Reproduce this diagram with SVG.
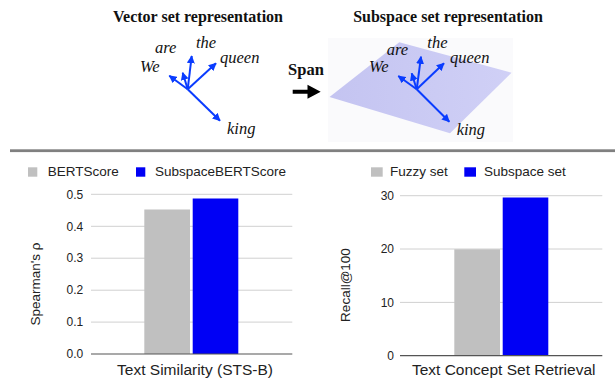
<svg xmlns="http://www.w3.org/2000/svg" width="615" height="383" viewBox="0 0 615 383">
<style>
.title{font-family:"Liberation Serif",serif;font-weight:bold;font-size:16px;fill:#111;text-anchor:middle}
.word{font-family:"Liberation Serif",serif;font-style:italic;font-size:16.5px;fill:#111}
.vec{stroke:#0a3cff;stroke-width:2;fill:none;marker-end:url(#ah)}
.grid{stroke:#d0d0d0;stroke-width:1}
.axis{stroke:#555;stroke-width:1.2}
.tick{font-family:"Liberation Sans",Arial,sans-serif;font-size:12px;fill:#222;text-anchor:end}
.leg{font-family:"Liberation Sans",Arial,sans-serif;font-size:13.5px;fill:#222}
.xl{font-family:"Liberation Sans",Arial,sans-serif;font-size:15.5px;fill:#222;text-anchor:middle}
.yl{font-family:"Liberation Sans",Arial,sans-serif;font-size:13.5px;fill:#222;text-anchor:middle}
.gray{fill:#c0c0c0}
.blue{fill:#0000f5}
</style>
<defs>
<marker id="ah" viewBox="0 0 10 10" refX="9" refY="5" markerWidth="4" markerHeight="4" orient="auto" markerUnits="strokeWidth">
<path d="M0,0 L10,5 L0,10 z" fill="#0a3cff"/>
</marker>
<linearGradient id="pg" x1="0" y1="0" x2="1" y2="0">
<stop offset="0" stop-color="#c4c4f1"/>
<stop offset="1" stop-color="#d0d0f6"/>
</linearGradient>
</defs>

<g id="vector-set">
<text class="title" x="198" y="22">Vector set representation</text>
<g id="vectors-left">
<line class="vec" x1="187.7" y1="89.3" x2="169.3" y2="75.7"/>
<line class="vec" x1="187.7" y1="89.3" x2="182.7" y2="72.7"/>
<line class="vec" x1="187.7" y1="89.3" x2="191.7" y2="56"/>
<line class="vec" x1="187.7" y1="89.3" x2="216" y2="63.3"/>
<line class="vec" x1="187.7" y1="89.3" x2="220" y2="120.7"/>
</g>
<text class="word" x="140" y="71.5">We</text>
<text class="word" x="155" y="53.3">are</text>
<text class="word" x="196" y="48.3">the</text>
<text class="word" x="220" y="63.3">queen</text>
<text class="word" x="227" y="134">king</text>
</g>

<g id="span">
<text x="306" y="75" font-family="Liberation Serif,serif" font-weight="bold" font-size="16.5px" fill="#111" text-anchor="middle">Span</text>
<polygon points="292.7,89.7 307.5,89.7 307.5,84.7 320.7,91.7 307.5,98.7 307.5,93.7 292.7,93.7" fill="#000"/>
</g>

<g id="subspace-set">
<text class="title" x="448" y="22">Subspace set representation</text>
<rect x="328" y="38" width="185" height="104" fill="#fafafc"/>
<polygon points="329.5,97 399.3,42.3 511.5,72.7 450,133.3" fill="url(#pg)"/>
<g id="vectors-right">
<line class="vec" x1="416.7" y1="89.3" x2="398.3" y2="76"/>
<line class="vec" x1="416.7" y1="89.3" x2="411.7" y2="73.3"/>
<line class="vec" x1="416.7" y1="89.3" x2="421" y2="56.7"/>
<line class="vec" x1="416.7" y1="89.3" x2="444" y2="63.3"/>
<line class="vec" x1="416.7" y1="89.3" x2="449.3" y2="121.7"/>
</g>
<text class="word" x="369" y="71.7">We</text>
<text class="word" x="386.7" y="55">are</text>
<text class="word" x="427.3" y="48.3">the</text>
<text class="word" x="450" y="63.3">queen</text>
<text class="word" x="456.7" y="135">king</text>
</g>

<rect id="divider" x="10" y="149.3" width="605" height="2.8" fill="#808080"/>

<g id="chart-left">
<rect class="gray" x="28" y="167.3" width="9.3" height="9.4"/>
<text class="leg" x="47.7" y="176">BERTScore</text>
<rect class="blue" x="136" y="167.3" width="9.3" height="9.4"/>
<text class="leg" x="155" y="176">SubspaceBERTScore</text>
<line class="grid" x1="91" y1="194.3" x2="292.3" y2="194.3"/>
<line class="grid" x1="91" y1="226.3" x2="292.3" y2="226.3"/>
<line class="grid" x1="91" y1="258.2" x2="292.3" y2="258.2"/>
<line class="grid" x1="91" y1="290.2" x2="292.3" y2="290.2"/>
<line class="grid" x1="91" y1="322.1" x2="292.3" y2="322.1"/>
<text class="tick" x="83.3" y="198.5">0.5</text>
<text class="tick" x="83.3" y="230.5">0.4</text>
<text class="tick" x="83.3" y="262.4">0.3</text>
<text class="tick" x="83.3" y="294.4">0.2</text>
<text class="tick" x="83.3" y="326.3">0.1</text>
<text class="tick" x="83.3" y="358.2">0.0</text>
<rect class="gray" x="144.3" y="209.5" width="45.7" height="144.5"/>
<rect class="blue" x="192.7" y="198.5" width="45.6" height="155.5"/>
<line class="axis" x1="91" y1="354" x2="292.3" y2="354"/>
<text class="yl" transform="translate(40,284) rotate(-90)">Spearman's ρ</text>
<text class="xl" x="195" y="375">Text Similarity (STS-B)</text>
</g>

<g id="chart-right">
<rect class="gray" x="371" y="167.3" width="11.7" height="9.4"/>
<text class="leg" x="390" y="176">Fuzzy set</text>
<rect class="blue" x="464.3" y="167.3" width="11.7" height="9.4"/>
<text class="leg" x="484" y="176">Subspace set</text>
<line class="grid" x1="400" y1="195.7" x2="602.3" y2="195.7"/>
<line class="grid" x1="400" y1="249" x2="602.3" y2="249"/>
<line class="grid" x1="400" y1="302.4" x2="602.3" y2="302.4"/>
<text class="tick" x="394" y="199.9">30</text>
<text class="tick" x="394" y="253.2">20</text>
<text class="tick" x="394" y="306.6">10</text>
<text class="tick" x="394" y="359.9">0</text>
<rect class="gray" x="454.3" y="249.3" width="45.7" height="106.4"/>
<rect class="blue" x="502.7" y="197.5" width="45.6" height="158.2"/>
<line class="axis" x1="400" y1="355.7" x2="602.3" y2="355.7"/>
<text class="yl" transform="translate(350,285) rotate(-90)">Recall@100</text>
<text class="xl" x="503.7" y="375">Text Concept Set Retrieval</text>
</g>
</svg>
